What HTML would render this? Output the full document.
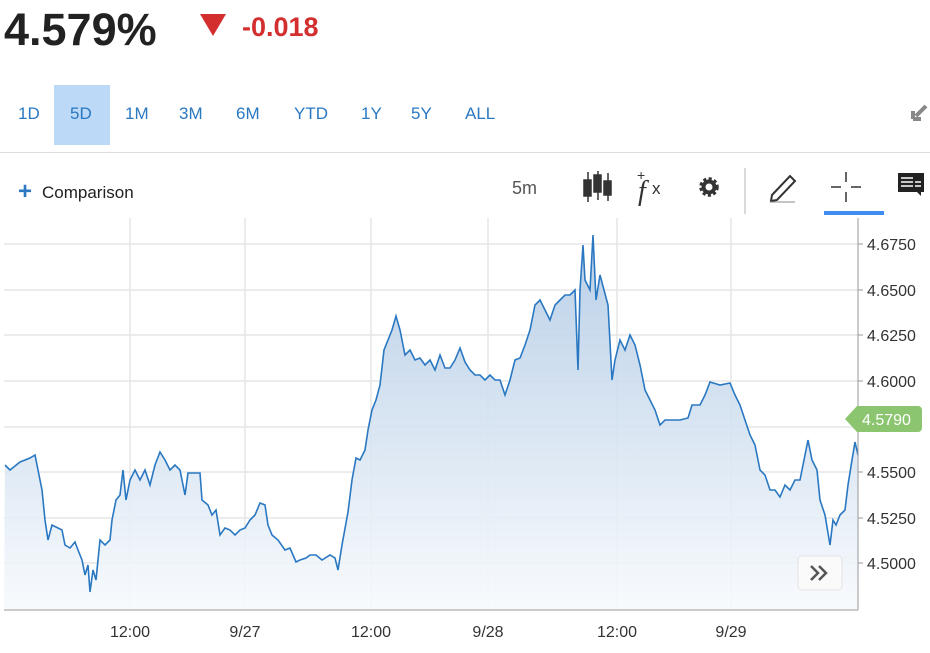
<!DOCTYPE html>
<html><head><meta charset="utf-8"><style>
body{margin:0;width:930px;height:653px;background:#fff;font-family:"Liberation Sans",sans-serif;position:relative;overflow:hidden}
.a{position:absolute}
.tab{position:absolute;top:104px;font-size:17px;color:#2a78c2}
</style></head><body>
<div class="a" style="left:4px;top:4px;font-size:45px;font-weight:bold;color:#222;letter-spacing:0px">4.579%</div>
<div class="a" style="left:200px;top:14px;width:0;height:0;border-left:13px solid transparent;border-right:13px solid transparent;border-top:22px solid #d32f2f"></div>
<div class="a" style="left:242px;top:12px;font-size:27px;font-weight:bold;color:#d32f2f">-0.018</div>
<div class="a" style="left:54px;top:85px;width:56px;height:60px;background:#bcd9f8"></div>
<div class="tab" style="left:18px">1D</div><div class="tab" style="left:70px">5D</div><div class="tab" style="left:125px">1M</div><div class="tab" style="left:179px">3M</div><div class="tab" style="left:236px">6M</div><div class="tab" style="left:294px">YTD</div><div class="tab" style="left:361px">1Y</div><div class="tab" style="left:411px">5Y</div><div class="tab" style="left:465px">ALL</div>
<svg class="a" style="left:908px;top:102px" width="22" height="22"><path d="M18 4 L8 14 M5 17 L5 9 M5 17 L13 17" stroke="#888" stroke-width="4" fill="none"/></svg>
<div class="a" style="left:0;top:152px;width:930px;height:1px;background:#ddd"></div>
<div class="a" style="left:18px;top:178px;font-size:24px;color:#2a78c2;font-weight:bold">+</div>
<div class="a" style="left:42px;top:183px;font-size:17px;color:#222">Comparison</div>
<div class="a" style="left:512px;top:178px;font-size:18px;color:#555">5m</div>
<svg class="a" style="left:0;top:160px" width="930" height="60">
<g fill="#333" stroke="#333" stroke-width="1.5"><line x1="588" y1="12" x2="588" y2="42"/><rect x="584" y="20" width="7" height="16"/><line x1="598" y1="11" x2="598" y2="40"/><rect x="594" y="15" width="7" height="17"/><line x1="608" y1="13" x2="608" y2="41"/><rect x="604" y="21" width="7" height="14"/></g>
<text x="638" y="40" font-family="Liberation Serif" font-style="italic" font-size="28" fill="#333">f</text><text x="637" y="20" font-size="14" fill="#333">+</text><text x="652" y="34" font-size="17" fill="#333">x</text>
<circle cx="709" cy="27" r="8" fill="none" stroke="#333" stroke-width="3.5" stroke-dasharray="3 2.3"/><circle cx="709" cy="27" r="5.5" fill="none" stroke="#333" stroke-width="4"/>
<line x1="745" y1="8" x2="745" y2="54" stroke="#ccc" stroke-width="1.5"/>
<path d="M772 35 L790 16 L795 21 L777 40 L771 41 Z" fill="none" stroke="#333" stroke-width="2"/><line x1="770" y1="42" x2="795" y2="42" stroke="#888"/>
<path d="M846 12v10M846 32v10M831 27h10M851 27h10" stroke="#333" stroke-width="1.5"/>
<rect x="824" y="51" width="60" height="4" fill="#3d8ef0"/>
<path d="M898 13h26v19h-3v4l-4-4h-19z" fill="#222"/><path d="M901 18h12M901 22h12M901 26h12M915 22h6M915 26h6" stroke="#fff" stroke-width="1.5"/>
</svg>
<svg class="a" style="left:0;top:0" width="930" height="653">
<defs><linearGradient id="g" gradientUnits="userSpaceOnUse" x1="0" y1="240" x2="0" y2="610"><stop offset="0" stop-color="#b3cbe5"/><stop offset="1" stop-color="#f7fafd"/></linearGradient></defs>
<g stroke="#e6e6e6" stroke-width="1.5">
<line x1="4" y1="244" x2="858" y2="244"/><line x1="4" y1="290" x2="858" y2="290"/><line x1="4" y1="335" x2="858" y2="335"/><line x1="4" y1="381" x2="858" y2="381"/><line x1="4" y1="427" x2="858" y2="427"/><line x1="4" y1="472" x2="858" y2="472"/><line x1="4" y1="518" x2="858" y2="518"/><line x1="4" y1="563" x2="858" y2="563"/>
<line x1="130" y1="218" x2="130" y2="610"/><line x1="245" y1="218" x2="245" y2="610"/><line x1="371" y1="218" x2="371" y2="610"/><line x1="488" y1="218" x2="488" y2="610"/><line x1="617" y1="218" x2="617" y2="610"/><line x1="731" y1="218" x2="731" y2="610"/>
</g>
<path fill-opacity="0.9" d="M4,610 L5,465 10,470 20,462 30,458 35,455 38,470 42,490 45,520 48,540 52,525 58,528 62,530 65,545 70,548 75,542 78,550 82,560 85,575 88,565 90,592 93,570 96,580 100,540 105,545 110,540 112,520 116,500 120,495 123,470 126,500 130,480 135,470 140,480 145,470 150,485 155,465 160,452 165,460 170,470 175,465 180,470 185,495 188,473 200,473 202,500 208,505 212,515 216,510 220,535 225,528 230,530 235,535 240,530 245,528 250,520 255,515 260,503 265,505 268,525 272,535 278,540 285,550 290,548 296,562 300,560 306,558 310,555 316,555 322,560 330,555 335,558 338,570 342,545 348,512 352,480 356,458 360,460 365,450 368,430 372,410 376,400 380,385 384,350 388,340 392,330 396,316 400,330 405,355 410,350 415,360 420,358 425,365 430,360 435,370 440,355 445,368 450,368 455,360 460,348 465,362 470,370 475,375 480,375 485,380 490,375 495,380 500,380 505,395 510,380 515,360 520,358 525,345 530,330 535,305 540,300 545,310 550,320 555,305 560,300 565,295 570,295 575,290 578,370 580,290 583,245 585,280 590,290 593,235 596,300 600,275 604,290 608,305 612,380 615,360 620,340 625,350 630,335 635,345 640,365 645,390 650,400 655,410 660,425 665,420 670,420 680,420 688,418 692,405 700,405 705,395 710,382 720,385 730,383 735,395 740,405 745,420 750,435 755,445 760,470 765,475 770,490 775,490 780,497 785,485 790,490 795,480 800,480 805,455 808,440 812,460 817,470 820,500 825,515 830,545 833,520 836,525 840,515 845,510 848,485 852,460 855,442 858,455 L858,610 Z" fill="url(#g)"/>
<polyline fill="none" stroke="#2a78c2" stroke-width="1.6" points="5,465 10,470 20,462 30,458 35,455 38,470 42,490 45,520 48,540 52,525 58,528 62,530 65,545 70,548 75,542 78,550 82,560 85,575 88,565 90,592 93,570 96,580 100,540 105,545 110,540 112,520 116,500 120,495 123,470 126,500 130,480 135,470 140,480 145,470 150,485 155,465 160,452 165,460 170,470 175,465 180,470 185,495 188,473 200,473 202,500 208,505 212,515 216,510 220,535 225,528 230,530 235,535 240,530 245,528 250,520 255,515 260,503 265,505 268,525 272,535 278,540 285,550 290,548 296,562 300,560 306,558 310,555 316,555 322,560 330,555 335,558 338,570 342,545 348,512 352,480 356,458 360,460 365,450 368,430 372,410 376,400 380,385 384,350 388,340 392,330 396,316 400,330 405,355 410,350 415,360 420,358 425,365 430,360 435,370 440,355 445,368 450,368 455,360 460,348 465,362 470,370 475,375 480,375 485,380 490,375 495,380 500,380 505,395 510,380 515,360 520,358 525,345 530,330 535,305 540,300 545,310 550,320 555,305 560,300 565,295 570,295 575,290 578,370 580,290 583,245 585,280 590,290 593,235 596,300 600,275 604,290 608,305 612,380 615,360 620,340 625,350 630,335 635,345 640,365 645,390 650,400 655,410 660,425 665,420 670,420 680,420 688,418 692,405 700,405 705,395 710,382 720,385 730,383 735,395 740,405 745,420 750,435 755,445 760,470 765,475 770,490 775,490 780,497 785,485 790,490 795,480 800,480 805,455 808,440 812,460 817,470 820,500 825,515 830,545 833,520 836,525 840,515 845,510 848,485 852,460 855,442 858,455"/>
<line x1="858" y1="218" x2="858" y2="610" stroke="#999"/>
<line x1="4" y1="610" x2="858" y2="610" stroke="#999"/>
<g stroke="#999"><line x1="858" y1="244" x2="863" y2="244"/><line x1="858" y1="290" x2="863" y2="290"/><line x1="858" y1="335" x2="863" y2="335"/><line x1="858" y1="381" x2="863" y2="381"/><line x1="858" y1="472" x2="863" y2="472"/><line x1="858" y1="518" x2="863" y2="518"/><line x1="858" y1="563" x2="863" y2="563"/></g>
<g font-size="16" fill="#333" font-family="Liberation Sans">
<text x="867" y="250">4.6750</text><text x="867" y="296">4.6500</text><text x="867" y="341">4.6250</text><text x="867" y="387">4.6000</text><text x="867" y="478">4.5500</text><text x="867" y="524">4.5250</text><text x="867" y="569">4.5000</text>
<g text-anchor="middle"><text x="130" y="637">12:00</text><text x="245" y="637">9/27</text><text x="371" y="637">12:00</text><text x="488" y="637">9/28</text><text x="617" y="637">12:00</text><text x="731" y="637">9/29</text></g>
</g>
<path d="M845,419 L857,406 H918 a4,4 0 0 1 4,4 V428 a4,4 0 0 1 -4,4 H857 Z" fill="#8cc56f"/>
<text x="862" y="425" font-size="16" fill="#fff" font-family="Liberation Sans">4.5790</text>
<rect x="798" y="556" width="44" height="34" rx="4" fill="#fafafa" stroke="#e3e3e3"/>
<path d="M811,566 l7,7 -7,7 M819,566 l7,7 -7,7" fill="none" stroke="#555" stroke-width="2.5"/>
</svg>
</body></html>
